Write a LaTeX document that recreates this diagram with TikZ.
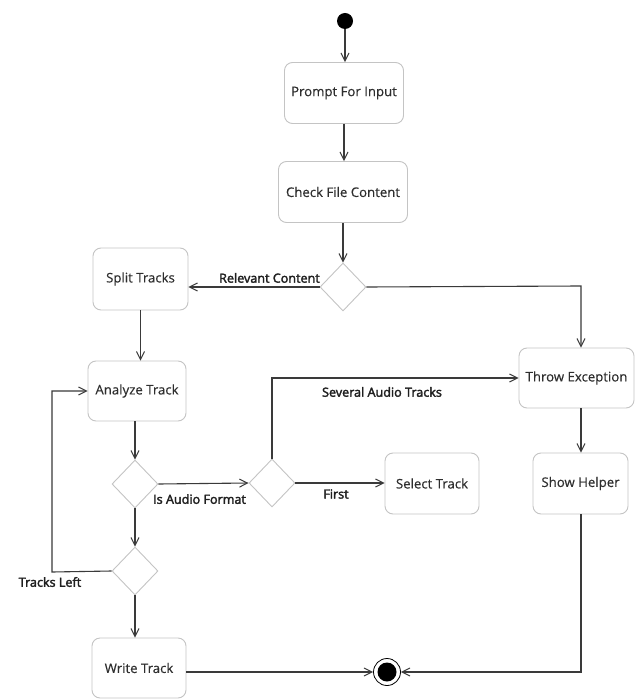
\documentclass[tikz,border=0pt]{standalone}
\usepackage{fontspec}
\setmainfont{Open Sans}
\newfontfamily\nodefont[FakeBold=0.35]{Open Sans}
\newfontfamily\lblfont[FakeBold=2.5]{Open Sans}
\usetikzlibrary{arrows.meta,shapes.geometric}
\definecolor{edgecol}{HTML}{3A3A3A}
\definecolor{boxcol}{HTML}{C4C4C4}
\definecolor{txtcol}{HTML}{2E2E2E}
\tikzset{
  act/.style={draw=boxcol, line width=0.9pt, rounded corners=8pt, fill=white,
    inner sep=0pt, font=\nodefont\fontsize{13.2}{15}\selectfont, text=txtcol},
  dec/.style={draw=boxcol, line width=0.9pt, diamond, inner sep=0pt,
    minimum width=46pt, minimum height=48pt, fill=white},
  flow/.style={draw=edgecol, line width=1.1pt,
    -{Straight Barb[length=8pt,width=8pt,line width=1pt]}},
  lbl/.style={font=\lblfont\fontsize{12.6}{14}\selectfont, text=black!88, inner sep=0pt}
}
\begin{document}
\begin{tikzpicture}[x=1pt,y=-1pt]
\useasboundingbox (0,0) rectangle (637,700);
\fill[white] (0,0) rectangle (637,700);
% nodes
\node[circle, fill=black, minimum size=16pt, inner sep=0pt] (init) at (345,21) {};
\node[act, minimum width=119pt, minimum height=61pt] (prompt) at (344,93) {Prompt For Input};
\node[act, minimum width=129pt, minimum height=61pt] (check) at (343,192) {Check File Content};
\node[dec] (d1) at (343,287) {};
\node[act, minimum width=95pt, minimum height=62pt] (split) at (140.5,279) {Split Tracks};
\node[act, minimum width=98pt, minimum height=60pt] (analyze) at (137,391) {Analyze Track};
\node[dec] (d2) at (135,484) {};
\node[dec] (d3) at (272,483) {};
\node[act, minimum width=94pt, minimum height=61pt] (select) at (432,483.5) {Select Track};
\node[act, minimum width=115pt, minimum height=60pt] (throw) at (576.5,378) {Throw Exception};
\node[act, minimum width=95pt, minimum height=61pt] (helper) at (580.5,483.5) {Show Helper};
\node[dec] (d4) at (135,571) {};
\node[act, minimum width=94pt, minimum height=60pt] (write) at (139,668) {Write Track};
\node[circle, draw=black, line width=0.8pt, minimum size=27pt, inner sep=0pt] (final) at (387,672) {};
\fill[black] (final.center) circle (9.5);
\coordinate (loopx) at (52,572);
\coordinate (rightx) at (581,286);
% edges
\draw[flow] (init) -- (init |- prompt.north);
\draw[flow] (prompt.south) -- (prompt.south |- check.north);
\draw[flow] (check.south -| d1.north) -- (d1.north);
\draw[flow] (d1.west) -- (d1.west -| split.east);
\node[lbl, anchor=south east] (lrel) at (320,283) {Relevant Content};
\draw[flow] (d1.east) -- (rightx) -- (rightx |- throw.north);
\draw[flow] (split.south) -- (split.south |- analyze.north);
\draw[flow] (analyze.south -| d2.north) -- (d2.north);
\draw[flow] (d2.east) -- (d3.west);
\node[lbl, anchor=north west] (laudio) at (153,494) {Is Audio Format};
\draw[flow] (d3.north) |- (throw.west);
\node[lbl] (lsev) at (382,392) {Several Audio Tracks};
\draw[flow] (d3.east) -- (d3.east -| select.west);
\node[lbl] (lfirst) at (336,494) {First};
\draw[flow] (d2.south) -- (d4.north);
\draw[flow] (d4.west) -- (loopx) |- (analyze.west);
\node[lbl] (lleft) at (50,582) {Tracks Left};
\draw[flow] (d4.south) -- (d4.south |- write.north);
\draw[flow] (write.east |- final) -- (final.west);
\draw[flow] (throw.south -| rightx) -- (rightx |- helper.north);
\draw[flow] (helper.south -| rightx) |- (final.east);
\end{tikzpicture}
\end{document}
